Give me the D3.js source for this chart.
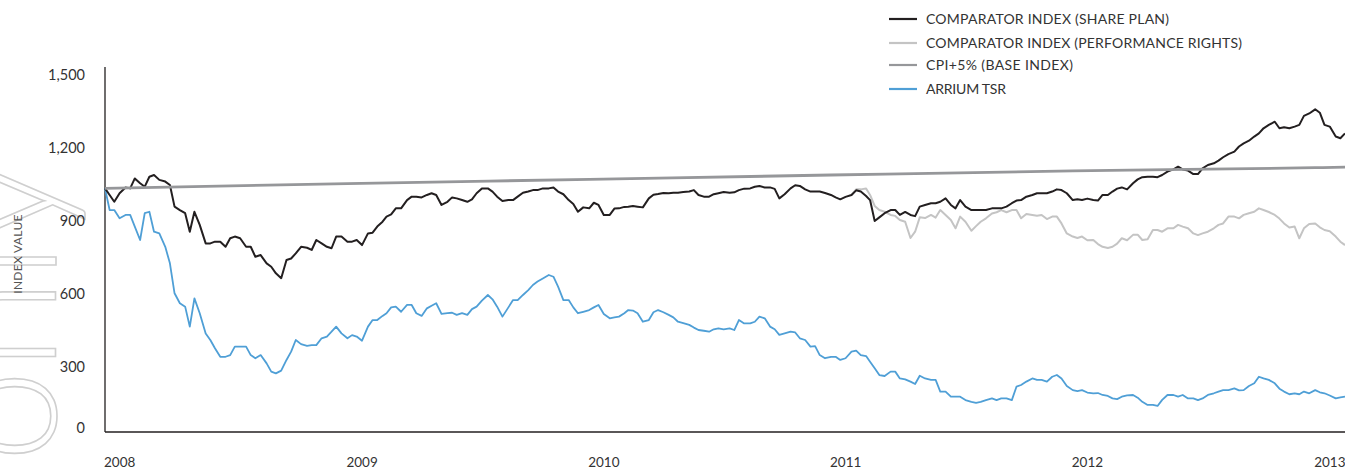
<!DOCTYPE html>
<html>
<head>
<meta charset="utf-8">
<script src="https://cdn.jsdelivr.net/npm/d3@7"></script>
<style>
  html, body { margin: 0; padding: 0; background: #fff; }
  svg { display: block; }
  text { font-family: Lato, "Open Sans", sans-serif; }
</style>
</head>
<body>
<svg id="chart" width="1345" height="470"></svg>
<script>
const startMonth = "2008-01";
const sampleDays = [1, 8, 15, 23];
const sampleCount = 247; // Jan 2008 – 15 Feb 2013

const shareplan = [
  1034, 1007, 979, 1014, 1038, 1034, 1075, 1055, 1041, 1082, 1089, 1069, 1062, 1048, 959, 945, 932, 856, 938, 884,
  808, 808, 815, 815, 794, 829, 836, 829, 794, 794, 753, 760, 726, 712, 685, 665, 740, 746, 767, 794, 790,
  781, 822, 808, 794, 788, 836, 836, 815, 815, 822, 801, 849, 852, 877, 897, 918, 927, 952, 952, 986,
  1000, 1000, 997, 1007, 1014, 1007, 966, 979, 997, 993, 986, 979, 989, 1014, 1034, 1034, 1021, 1000, 982, 986,
  986, 1000, 1016, 1021, 1027, 1027, 1034, 1034, 1038, 1021, 1010, 986, 970, 938, 956, 952, 975, 966, 925, 925,
  951, 952, 958, 959, 962, 959, 956, 993, 1008, 1011, 1015, 1014, 1016, 1016, 1019, 1021, 1027, 1007, 1000, 1000, 1010,
  1014, 1019, 1016, 1018, 1027, 1033, 1034, 1041, 1044, 1038, 1038, 1032, 993, 1010, 1034, 1047, 1044, 1030, 1021, 1021,
  1021, 1015, 1007, 997, 989, 999, 1007, 1026, 1021, 1003, 986, 900, 915, 932, 945, 945, 925, 937, 925, 920, 959,
  966, 973, 973, 979, 993, 966, 952, 986, 959, 945, 945, 945, 945, 952, 952, 952, 959, 973, 984, 986,
  1000, 1007, 1014, 1014, 1014, 1021, 1030, 1027, 1014, 986, 989, 986, 992, 986, 984, 1007, 1007, 1021, 1033, 1038,
  1030, 1055, 1071, 1080, 1082, 1082, 1080, 1089, 1103, 1112, 1123, 1112, 1107, 1093, 1093, 1116, 1130, 1137, 1148, 1162,
  1175, 1185, 1206, 1219, 1230, 1247, 1260, 1281, 1295, 1308, 1281, 1285, 1281, 1288, 1295, 1332, 1342, 1359, 1345, 1295,
  1288, 1247, 1240, 1260];

const arriumTSR = [
  1034, 945, 945, 911, 925, 925, 877, 822, 932, 938, 856, 849, 794, 726, 603, 562, 548, 466, 582, 521,
  438, 411, 377, 342, 342, 349, 384, 384, 384, 349, 336, 349, 315, 281, 274, 285, 329, 363, 411, 394, 387,
  390, 390, 418, 425, 445, 466, 438, 418, 431, 425, 408, 466, 493, 493, 510, 521, 545, 548, 527, 555,
  555, 521, 510, 541, 552, 562, 518, 521, 523, 514, 521, 514, 538, 548, 573, 596, 578, 548, 507, 545,
  575, 575, 596, 616, 637, 651, 664, 678, 671, 630, 575, 575, 545, 521, 527, 534, 545, 555, 518, 500,
  504, 507, 521, 534, 532, 521, 486, 493, 525, 534, 525, 514, 504, 486, 480, 473, 462, 452, 449, 445, 455,
  459, 455, 459, 452, 493, 479, 479, 486, 507, 500, 466, 455, 432, 438, 445, 442, 418, 411, 384, 386,
  349, 336, 342, 342, 329, 336, 363, 367, 349, 345, 322, 295, 267, 263, 281, 281, 253, 249, 240, 230, 264,
  253, 247, 247, 199, 199, 178, 178, 178, 164, 157, 153, 157, 164, 171, 164, 171, 171, 164, 219, 226,
  240, 253, 247, 247, 240, 260, 267, 253, 222, 205, 201, 205, 195, 192, 193, 185, 181, 171, 168, 178,
  183, 185, 174, 157, 144, 144, 140, 165, 185, 185, 178, 185, 171, 171, 164, 171, 185, 192, 199, 205,
  205, 212, 204, 205, 222, 233, 260, 253, 247, 233, 211, 199, 188, 192, 188, 199, 192, 205, 196, 192,
  183, 171, 175, 178];

// performance rights comparator starts at sample 148 (1 Feb 2011)
const perfStartIndex = 148;
const perfRights = [
  1007, 1030, 1030, 1034, 1007, 962, 945, 938, 925, 921, 904, 897, 830, 856, 915,
  912, 925, 914, 945, 925, 904, 870, 918, 897, 860, 879, 897, 911, 931, 936, 945, 936, 945, 945, 911,
  929, 925, 922, 925, 908, 918, 918, 890, 849, 836, 830, 836, 821, 822, 805, 794, 789, 794, 807, 829,
  821, 843, 844, 822, 825, 863, 863, 856, 870, 870, 884, 877, 870, 849, 842, 849, 856, 870, 884, 890,
  918, 918, 911, 925, 932, 938, 952, 945, 937, 925, 910, 890, 873, 877, 829, 870, 888, 890, 874, 863,
  858, 836, 815, 801];

const baseDates = ["2008-01-01", "2009-01-01", "2010-01-01", "2011-01-01", "2012-01-01", "2013-01-01", "2013-02-15"];
const baseIndex = [1034, 1054, 1071, 1089, 1106, 1119, 1121];

const yTicks = [0, 300, 600, 900, 1200, 1500];
const xTickYears = ["2008", "2009", "2010", "2011", "2012", "2013"];

const legendLabels = ["COMPARATOR INDEX (SHARE PLAN)", "COMPARATOR INDEX (PERFORMANCE RIGHTS)", "CPI+5% (BASE INDEX)", "ARRIUM TSR"];
const colors = { share: "#231f20", perf: "#c4c4c4", base: "#96979a", tsr: "#4f9fd6" };

// ---- build ----
const parse = d3.timeParse("%Y-%m-%d");
const m0 = d3.timeParse("%Y-%m")(startMonth);
const dates = [];
for (let i = 0; i < sampleCount; i++) {
  const m = d3.timeMonth.offset(m0, Math.floor(i / 4));
  dates.push(d3.timeDay.offset(m, sampleDays[i % 4] - 1));
}

const svg = d3.select("#chart");
const left = 105, right = 1345, axisBottom = 432, axisTop = 67;

const x = d3.scaleTime().domain([m0, parse("2013-02-15")]).range([left, right]);
const y = d3.scaleLinear().domain([0, 1500]).range([440, 75]);

// watermark
svg.append("text")
  .attr("transform", "translate(56,160) rotate(-90)")
  .attr("text-anchor", "end")
  .attr("font-size", 165)
  .attr("font-weight", 300)
  .attr("fill", "none")
  .attr("stroke", "#cfcfcf")
  .attr("stroke-width", 1.6)
  .text("only");

// y axis title
svg.append("text")
  .attr("transform", "translate(22,254) rotate(-90)")
  .attr("text-anchor", "middle")
  .attr("font-size", 12)
  .attr("fill", "#555")
  .attr("letter-spacing", 0.3)
  .text("INDEX VALUE");

// y tick labels
svg.append("g").selectAll("text").data(yTicks).join("text")
  .attr("x", 85)
  .attr("y", d => Math.min(y(d), axisBottom - 4))
  .attr("dy", "0.35em")
  .attr("text-anchor", "end")
  .attr("font-size", 14.5)
  .attr("fill", "#333")
  .text(d => d3.format(",")(d));

// x tick labels
svg.append("g").selectAll("text").data(xTickYears).join("text")
  .attr("x", d => x(parse(d + "-01-01")) - 1)
  .attr("y", 467)
  .attr("text-anchor", "start")
  .attr("font-size", 13.5)
  .attr("fill", "#333")
  .text(d => d);

// axes lines
svg.append("line").attr("x1", left).attr("x2", left).attr("y1", axisTop).attr("y2", axisBottom)
  .attr("stroke", "#231f20").attr("stroke-width", 1.3);
svg.append("line").attr("x1", left).attr("x2", right).attr("y1", axisBottom).attr("y2", axisBottom)
  .attr("stroke", "#231f20").attr("stroke-width", 1.3);

const line = d3.line().x(d => x(d[0])).y(d => y(d[1]));

const baseData = baseDates.map((d, i) => [parse(d), baseIndex[i]]);
const shareData = shareplan.map((v, i) => [dates[i], v]);
const perfData = perfRights.map((v, i) => [dates[perfStartIndex + i], v]);
const tsrData = arriumTSR.map((v, i) => [dates[i], v]);

const g = svg.append("g");
g.append("path").datum(perfData).attr("d", line).attr("fill", "none")
  .attr("stroke", colors.perf).attr("stroke-width", 2).attr("stroke-linejoin", "round");
g.append("path").datum(tsrData).attr("d", line).attr("fill", "none")
  .attr("stroke", colors.tsr).attr("stroke-width", 1.8).attr("stroke-linejoin", "round");
g.append("path").datum(shareData).attr("d", line).attr("fill", "none")
  .attr("stroke", colors.share).attr("stroke-width", 2).attr("stroke-linejoin", "round");
g.append("path").datum(baseData).attr("d", d3.line().x(d => x(d[0])).y(d => y(d[1])).curve(d3.curveMonotoneX))
  .attr("fill", "none").attr("stroke", colors.base).attr("stroke-width", 2.8);

// legend
const legendColors = [colors.share, colors.perf, colors.base, colors.tsr];
const legendY = [19, 43, 65, 89];
const legendWidths = [243, 316, 147, 80];
const lg = svg.append("g");
legendLabels.forEach((lab, i) => {
  lg.append("line").attr("x1", 889).attr("x2", 917).attr("y1", legendY[i]).attr("y2", legendY[i])
    .attr("stroke", legendColors[i]).attr("stroke-width", 2.2);
  lg.append("text").attr("x", 926).attr("y", legendY[i]).attr("dy", "0.36em")
    .attr("font-size", 14).attr("fill", "#333")
    .attr("textLength", legendWidths[i]).attr("lengthAdjust", "spacing")
    .text(lab);
});
</script>
</body>
</html>
